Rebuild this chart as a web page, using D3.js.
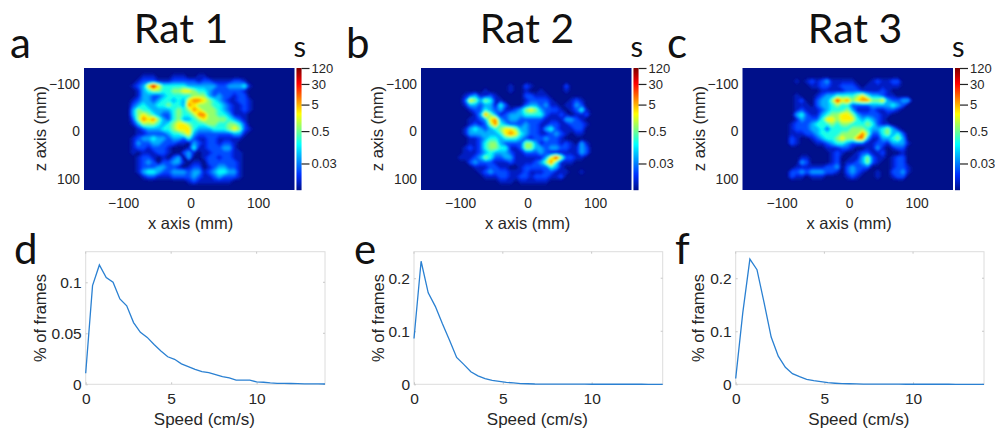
<!DOCTYPE html>
<html>
<head>
<meta charset="utf-8">
<style>
  body { margin: 0; background: #fff; }
  svg { display: block; }
  text { font-family: "Liberation Sans", Arial, sans-serif; fill: #262626; }
  .big { font-family: Lato, sans-serif; fill: #111; }
</style>
</head>
<body>
<svg id="fig" width="995" height="429"></svg>
<script src="https://cdn.jsdelivr.net/npm/d3@7"></script>
<script>
// heatmap occupancy: one digit per cell, index into levelSeconds
// columns go from x = -100 mm in 7.5 mm steps, rows from z = -125 mm in 10 mm steps
const levelSeconds = [0.003, 0.007, 0.018, 0.06, 0.22, 0.8, 3, 10, 35, 90];
const gridX0 = -100, gridXStep = 7.5, gridZ0 = -125, gridZStep = 10;

const rat1Grid = [
  "000000000000000000000000000",
  "000011100011100110000000000",
  "000122211122222122111122100",
  "001236964444433333322333410",
  "000134554455665443222222100",
  "000133223444445553232212200",
  "001233234434367765432112210",
  "002343344544376555443211210",
  "003544333345457655543211210",
  "003565432245445775544311100",
  "002576753245334565555432100",
  "001355543456654445544554200",
  "000123334456664333444565210",
  "000112222344563222222233100",
  "001233433233242112211111000",
  "001322332221103212212210000",
  "001221222100014112223310000",
  "001011122100231011222211000",
  "000122101023030012212211000",
  "000123202233101102222221000",
  "000122233221012201233221000",
  "000134432233323312344331000",
  "000012211122223211232221000",
  "000000000000012111111100000",
  "000000000000000000000000000"
];
const rat2Grid = [
  "000000000000000000000000000",
  "000000000000000000000000000",
  "000000000000000000000000000",
  "000000000010021000000200000",
  "000001000010010010000100000",
  "012311210000022111000000000",
  "026535411000012222100012100",
  "013323314200023323110113200",
  "001224323112356532221012410",
  "000137531233344442112101120",
  "001123673233222221111332100",
  "001212574322232211221122210",
  "013432345665332213421112200",
  "013333334676432211232101100",
  "001123443444321223221000000",
  "001124553222255312221210310",
  "012124554411255332332211320",
  "011123433321122232111111320",
  "111235422331111113685221100",
  "002322211121111235741110000",
  "000111221100122222431000000",
  "000012322211121112211100100",
  "000001112211221222112000000",
  "000000001110111111000000000",
  "000000000000000000000000000"
];
const rat3Grid = [
  "000000000000000000000000000",
  "000000000000000000000000000",
  "000101212311111000121122000",
  "000000112211222101111111000",
  "000000001111122211112100000",
  "000100012334444564332110000",
  "000120023358675677556322330",
  "000111023345442222333343200",
  "000121112344453111211221000",
  "000342113455665322221100000",
  "000132224665666434321000000",
  "001222344454554445421100000",
  "001222334244445554334531000",
  "001112234444555575224534200",
  "002100123445655773113345300",
  "002100011234432221122133310",
  "000000000111221001131012200",
  "000000000012100122112000100",
  "000011000012001135211012200",
  "000032000012011235210012200",
  "000111111223023222000012210",
  "002232333221023210010022310",
  "002110111000012100010012200",
  "000000000000000000000000000",
  "000000000000000000000000000"
];

// speed histograms, one value every 0.4 cm/s
const speedStep = 0.4;
const rat1Speed = [0.0108, 0.0967, 0.117, 0.1046, 0.1, 0.0837, 0.077, 0.0605, 0.051, 0.046, 0.039, 0.0327, 0.027, 0.0245, 0.02, 0.0173, 0.0147, 0.0124, 0.0114, 0.0095, 0.0075, 0.0062, 0.004, 0.004, 0.004, 0.0023, 0.002, 0.0013, 0.001, 0.001, 0.0008, 0.0006, 0.0005, 0.0004, 0.0004, 0.0003];
const rat2Speed = [0.0863, 0.232, 0.1725, 0.147, 0.114, 0.083, 0.0506, 0.0375, 0.0237, 0.016, 0.0106, 0.0075, 0.0056, 0.0037, 0.0025, 0.0012, 0.001, 0.0006, 0.0005, 0.0004, 0.0003, 0.0003, 0.0002, 0.0002, 0.0002, 0.0001, 0.0001, 0.0001, 0.0001, 0.0001, 0.0001, 0.0001, 0.0001, 0, 0, 0];
const rat3Speed = [0.011, 0.135, 0.236, 0.216, 0.154, 0.089, 0.053, 0.032, 0.02, 0.0144, 0.0094, 0.0069, 0.005, 0.003, 0.002, 0.0012, 0.001, 0.0007, 0.0005, 0.0004, 0.0003, 0.0003, 0.0002, 0.0002, 0.0001, 0.0001, 0.0001, 0.0001, 0.0001, 0.0001, 0.0001, 0, 0, 0, 0, 0];

const titles = ["Rat 1", "Rat 2", "Rat 3"];
const heatLetters = ["a", "b", "c"];
const speedLetters = ["d", "e", "f"];
const colorTicks = [0.03, 0.5, 5, 30, 120];
const positionTicks = [-100, 0, 100];
const speedTicks = [0, 5, 10];
const speedYTicks = [[0, 0.05, 0.1], [0, 0.1, 0.2], [0, 0.1, 0.2]];
const speedYMax = [0.13, 0.25, 0.25];

const svg = d3.select("#fig");
const defs = svg.append("defs");
defs.append("filter").attr("id", "soft")
  .attr("x", "-5%").attr("y", "-5%").attr("width", "110%").attr("height", "110%")
  .append("feGaussianBlur").attr("stdDeviation", 0.9);

// jet, with the navy the figure uses at the bottom
const colorPos = d3.scaleLog().domain([0.003, 120]).range([0, 1]);
const jet = d3.scaleLinear()
  .domain([0, 0.125, 0.375, 0.625, 0.875, 1])
  .range(["#00108a", "#0030ff", "#00ffff", "#ffff00", "#ff0000", "#7f0000"]);

// layout of the top row
const heatLeft = [84, 421, 742.5];
const heatWidth = 210.5, heatTop = 68, heatHeight = 122;
const titleX = [181, 527, 855];
const letterX = [10, 346, 667];

heatLeft.forEach(function (left, p) {
  const x = d3.scaleLinear().domain([-158, 154]).range([left, left + heatWidth]);
  const z = d3.scaleLinear().domain([-133, 123]).range([heatTop, heatTop + heatHeight]);
  const g = svg.append("g");

  defs.append("clipPath").attr("id", "clip" + p)
    .append("rect").attr("x", left).attr("y", heatTop).attr("width", heatWidth).attr("height", heatHeight);

  g.append("rect")
    .attr("x", left).attr("y", heatTop).attr("width", heatWidth).attr("height", heatHeight)
    .attr("fill", jet(0));

  // contour the grid, in colour-bar units, and fill from low to high
  const rows = [rat1Grid, rat2Grid, rat3Grid][p];
  const values = [];
  rows.forEach((row) => row.split("").forEach((c) => values.push(colorPos(levelSeconds[+c]))));
  const contours = d3.contours()
    .size([rows[0].length, rows.length])
    .thresholds(d3.range(0.02, 1, 0.02))(values);
  const path = d3.geoPath(d3.geoTransform({
    point: function (px, py) {
      this.stream.point(x(gridX0 + (px - 0.5) * gridXStep), z(gridZ0 + (py - 0.5) * gridZStep));
    }
  }));
  g.append("g").attr("clip-path", "url(#clip" + p + ")")
    .append("g").attr("filter", "url(#soft)")
    .selectAll("path")
    .data(contours)
    .enter()
    .append("path")
    .attr("d", path)
    .attr("fill", (d) => jet(d.value));

  // axes
  const xAxis = g.append("g")
    .attr("transform", "translate(0," + (heatTop + heatHeight) + ")")
    .call(d3.axisBottom(x).tickValues(positionTicks).tickSize(0).tickPadding(8));
  const zAxis = g.append("g")
    .attr("transform", "translate(" + left + ",0)")
    .call(d3.axisLeft(z).tickValues(positionTicks).tickSize(0).tickPadding(4));
  [xAxis, zAxis].forEach((a) => {
    a.select(".domain").remove();
    a.selectAll("text").style("font-family", null).attr("font-size", 13.8).attr("font-family", "Liberation Sans").attr("fill", "#262626");
  });

  g.append("text").text("x axis (mm)")
    .attr("x", x(0)).attr("y", 229).attr("text-anchor", "middle").attr("font-size", 16.5);
  g.append("text").text("z axis (mm)")
    .attr("transform", "translate(" + (left - 38) + "," + z(-6) + ") rotate(-90)")
    .attr("text-anchor", "middle").attr("font-size", 16.5);

  // colour bar
  const barX = left + heatWidth + 2, barW = 5;
  const bar = d3.scaleLog().domain([0.003, 120]).range([heatTop + heatHeight, heatTop]);
  g.append("g").selectAll("rect")
    .data(d3.range(0, heatHeight))
    .enter()
    .append("rect")
    .attr("x", barX).attr("width", barW)
    .attr("y", (d) => heatTop + heatHeight - d - 1)
    .attr("height", 1.2)
    .attr("fill", (d) => jet((d + 0.5) / heatHeight));
  const barAxis = g.append("g")
    .attr("transform", "translate(" + (barX + barW) + ",0)")
    .call(d3.axisRight(bar).tickValues(colorTicks).tickFormat((d) => d).tickSize(8).tickPadding(2));
  barAxis.select(".domain").remove();
  barAxis.selectAll("line").attr("stroke", "#222").attr("stroke-width", 1.2);
  barAxis.selectAll("text").style("font-family", null).attr("font-size", 13).attr("font-family", "Liberation Sans").attr("fill", "#262626");

  g.append("text").attr("class", "big").text("s")
    .attr("x", barX - 3).attr("y", 57).attr("font-size", 29);
  g.append("text").attr("class", "big").text(titles[p])
    .attr("x", titleX[p]).attr("y", 43).attr("text-anchor", "middle").attr("font-size", 41);
  g.append("text").attr("class", "big").text(heatLetters[p])
    .attr("x", letterX[p]).attr("y", 58).attr("font-size", 42);
});

// layout of the bottom row
const speedLeft = [85.7, 414, 735.7];
const speedRight = [325, 662.7, 984];
const speedTop = 251.7, speedBottom = 384.3;
const speedLabelX = [40, 378, 698];
const speedLetterX = [14, 354, 675];
const speedSeries = [rat1Speed, rat2Speed, rat3Speed];

speedSeries.forEach(function (series, p) {
  const x = d3.scaleLinear().domain([0, 14]).range([speedLeft[p], speedRight[p]]);
  const y = d3.scaleLinear().domain([0, speedYMax[p]]).range([speedBottom, speedTop]);
  const g = svg.append("g");

  g.append("rect")
    .attr("x", speedLeft[p]).attr("y", speedTop)
    .attr("width", speedRight[p] - speedLeft[p]).attr("height", speedBottom - speedTop)
    .attr("fill", "none").attr("stroke", "#dcdcdc");

  const xAxis = g.append("g")
    .attr("transform", "translate(0," + speedBottom + ")")
    .call(d3.axisBottom(x).tickValues(speedTicks).tickFormat((d) => d).tickSize(-2).tickPadding(9));
  const yAxis = g.append("g")
    .attr("transform", "translate(" + speedLeft[p] + ",0)")
    .call(d3.axisLeft(y).tickValues(speedYTicks[p]).tickFormat((d) => d).tickSize(-2).tickPadding(4));
  [xAxis, yAxis].forEach((a) => {
    a.select(".domain").remove();
    a.selectAll("line").attr("stroke", "#c8c8c8");
    a.selectAll("text").style("font-family", null).attr("font-size", 15.5).attr("font-family", "Liberation Sans").attr("fill", "#262626");
  });

  // ticks on the far sides too
  g.selectAll(".topTick").data(speedTicks).enter().append("line")
    .attr("x1", (d) => x(d)).attr("x2", (d) => x(d))
    .attr("y1", speedTop).attr("y2", speedTop + 2).attr("stroke", "#c8c8c8");
  g.selectAll(".rightTick").data(speedYTicks[p]).enter().append("line")
    .attr("x1", speedRight[p] - 2).attr("x2", speedRight[p])
    .attr("y1", (d) => y(d)).attr("y2", (d) => y(d)).attr("stroke", "#c8c8c8");

  const line = d3.line().x((d, i) => x(i * speedStep)).y((d) => y(d));
  g.append("path").datum(series)
    .attr("d", line).attr("fill", "none")
    .attr("stroke", "#2a80d2").attr("stroke-width", 1.3);

  g.append("text").text("Speed (cm/s)")
    .attr("x", (speedLeft[p] + speedRight[p]) / 2 - 1).attr("y", 425)
    .attr("text-anchor", "middle").attr("font-size", 17);
  g.append("text").text("% of frames")
    .attr("transform", "translate(" + (speedLabelX[p] + 6) + ",318) rotate(-90)")
    .attr("text-anchor", "middle").attr("font-size", 16.5);
  g.append("text").attr("class", "big").text(speedLetters[p])
    .attr("x", speedLetterX[p]).attr("y", 264).attr("font-size", 42);
});
</script>
</body>
</html>
